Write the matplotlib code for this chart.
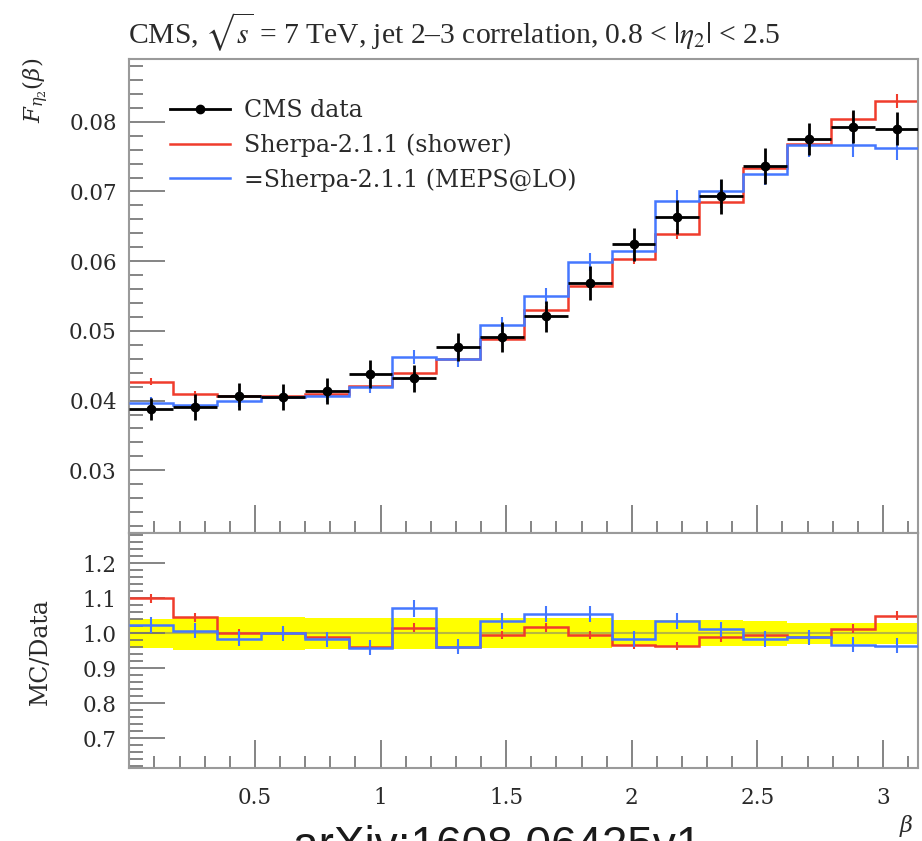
import numpy as np
import matplotlib
matplotlib.use("Agg")
import matplotlib.pyplot as plt
from matplotlib.ticker import MultipleLocator, FormatStrFormatter
from matplotlib.lines import Line2D

# ---------------- data ----------------
n_bins = 18
beta_max = np.pi

cms_data = [0.0388, 0.0391, 0.0406, 0.0405, 0.0414, 0.0438, 0.0432, 0.0477, 0.0491,
            0.0521, 0.0568, 0.0624, 0.0663, 0.0693, 0.0737, 0.0775, 0.0793, 0.0790]
cms_err = [0.00163, 0.00184, 0.00191, 0.00190, 0.00186, 0.00197, 0.00194, 0.00205, 0.00211,
           0.00224, 0.00244, 0.00231, 0.00245, 0.00256, 0.00258, 0.00233, 0.00238, 0.00237]

shower = [0.0427, 0.0409, 0.0406, 0.0406, 0.0410, 0.0421, 0.0439, 0.0459, 0.0489,
          0.0530, 0.0565, 0.0603, 0.0639, 0.0685, 0.0733, 0.0768, 0.0804, 0.0830]
shower_err = [0.00051, 0.00049, 0.00049, 0.00049, 0.00049, 0.00051, 0.00053, 0.00055, 0.00059,
              0.00064, 0.00068, 0.00072, 0.00077, 0.00082, 0.00088, 0.00092, 0.00096, 0.00100]

meps = [0.0397, 0.0394, 0.0400, 0.0405, 0.0407, 0.0420, 0.0463, 0.0459, 0.0509,
        0.0550, 0.0599, 0.0614, 0.0687, 0.0701, 0.0725, 0.0766, 0.0767, 0.0762]
meps_err = [0.00087, 0.00087, 0.00088, 0.00089, 0.00090, 0.00092, 0.00102, 0.00101, 0.00112,
            0.00121, 0.00132, 0.00135, 0.00151, 0.00154, 0.00160, 0.00169, 0.00169, 0.00168]

labels = ["CMS data", "Sherpa-2.1.1 (shower)", "=Sherpa-2.1.1 (MEPS@LO)"]
title = r"CMS, $\sqrt{s}$ = 7 TeV, jet 2–3 correlation, 0.8 < $|\eta_2|$ < 2.5"

# ---------------- derived ----------------
edges = np.linspace(0.0, beta_max, n_bins + 1)
centers = 0.5 * (edges[:-1] + edges[1:])
halfw = 0.5 * np.diff(edges)
d = np.array(cms_data)
de = np.array(cms_err)
r_sh = np.array(shower) / d
r_sh_e = np.array(shower_err) / d
r_me = np.array(meps) / d
r_me_e = np.array(meps_err) / d

RED = "#f03c2c"
BLUE = "#4578ff"
SPINE = "#9a9a9a"
TICK = "#707070"
LABEL = "#2a2a2a"

plt.rcParams["font.family"] = ["DejaVu Serif"]
plt.rcParams["mathtext.fontset"] = "dejavuserif"

fig = plt.figure(figsize=(9.22, 8.41), dpi=100)
ax = fig.add_axes([0.1403, 0.3662, 0.8559, 0.5636])
rax = fig.add_axes([0.1403, 0.0868, 0.8559, 0.2794], sharex=ax)

# main panel
ax.stairs(shower, edges, color=RED, lw=1.8, baseline=None, zorder=2)
ax.errorbar(centers, shower, yerr=shower_err, fmt="none", ecolor=RED, elinewidth=1.5, zorder=2)
ax.stairs(meps, edges, color=BLUE, lw=1.8, baseline=None, zorder=3)
ax.errorbar(centers, meps, yerr=meps_err, fmt="none", ecolor=BLUE, elinewidth=1.5, zorder=3)
ax.errorbar(centers, cms_data, xerr=halfw, yerr=cms_err, fmt="o", color="black",
            ms=6, elinewidth=2.0, capsize=0, zorder=4)

ax.set_xlim(0, beta_max)
ax.set_ylim(0.021, 0.089)

# ratio panel
rax.stairs(1 + de / d, edges, baseline=1 - de / d, fill=True, color="#ffff00", lw=0, zorder=1)
rax.axhline(1.0, color="#b8b840", lw=1.5, zorder=1.5)
rax.stairs(r_sh, edges, color=RED, lw=1.8, baseline=None, zorder=2)
rax.errorbar(centers, r_sh, yerr=r_sh_e, fmt="none", ecolor=RED, elinewidth=1.5, zorder=2)
rax.stairs(r_me, edges, color=BLUE, lw=1.8, baseline=None, zorder=3)
rax.errorbar(centers, r_me, yerr=r_me_e, fmt="none", ecolor=BLUE, elinewidth=1.5, zorder=3)
rax.set_ylim(0.615, 1.287)

for a in (ax, rax):
    for s in a.spines.values():
        s.set_color(SPINE)
        s.set_linewidth(1.5)
    a.xaxis.set_major_locator(MultipleLocator(0.5))
    a.xaxis.set_minor_locator(MultipleLocator(0.1))
    a.tick_params(which="both", direction="in", color=TICK, width=1.2,
                  top=False, right=False, labelcolor=LABEL, labelsize=15.5)
    a.tick_params(axis="x", which="major", length=20)
    a.tick_params(axis="x", which="minor", length=9)
    a.tick_params(axis="y", which="major", length=26)
    a.tick_params(axis="y", which="minor", length=10)
    a.tick_params(axis="y", pad=9)
    a.tick_params(axis="x", pad=14)

ax.yaxis.set_major_locator(MultipleLocator(0.01))
ax.yaxis.set_minor_locator(MultipleLocator(0.002))
ax.yaxis.set_major_formatter(FormatStrFormatter("%.2f"))
ax.tick_params(axis="x", labelbottom=False)

rax.yaxis.set_major_locator(MultipleLocator(0.1))
rax.yaxis.set_minor_locator(MultipleLocator(0.02))
rax.yaxis.set_major_formatter(FormatStrFormatter("%.1f"))
rax.set_xticks([0.5, 1, 1.5, 2, 2.5, 3])
rax.set_xticklabels(["0.5", "1", "1.5", "2", "2.5", "3"])

# legend
handles = [Line2D([], [], color="black", lw=2.0, marker="o", ms=6),
           Line2D([], [], color=RED, lw=1.8),
           Line2D([], [], color=BLUE, lw=1.8)]
ax.legend(handles, labels, loc="upper left", bbox_to_anchor=(0.051, 0.915),
          frameon=False, fontsize=17, handlelength=2.55, handletextpad=0.6,
          labelspacing=0.47, borderpad=0, borderaxespad=0, labelcolor=LABEL)

# texts
fig.text(128 / 922, 1 - 32 / 841, title, ha="left", va="center", fontsize=21.3,
         family="Liberation Serif", math_fontfamily="stix", color=LABEL)
fig.text(36 / 922, 1 - 58 / 841, r"$F_{\eta_2}(\beta)$", rotation=90, ha="center",
         va="top", fontsize=16.5, color=LABEL)
fig.text(40 / 922, 1 - 652 / 841, "MC/Data", rotation=90, ha="center", va="center",
         fontsize=17, color=LABEL)
fig.text(906 / 922, 1 - 826 / 841, r"$\beta$", ha="center", va="center", fontsize=16,
         color=LABEL)
fig.text(497 / 922, -0.0214, "arXiv:1608.06425v1", ha="center", va="baseline",
         fontsize=33, family="Liberation Sans", color="#1a1a1a")

fig.savefig("out.png", dpi=100)
